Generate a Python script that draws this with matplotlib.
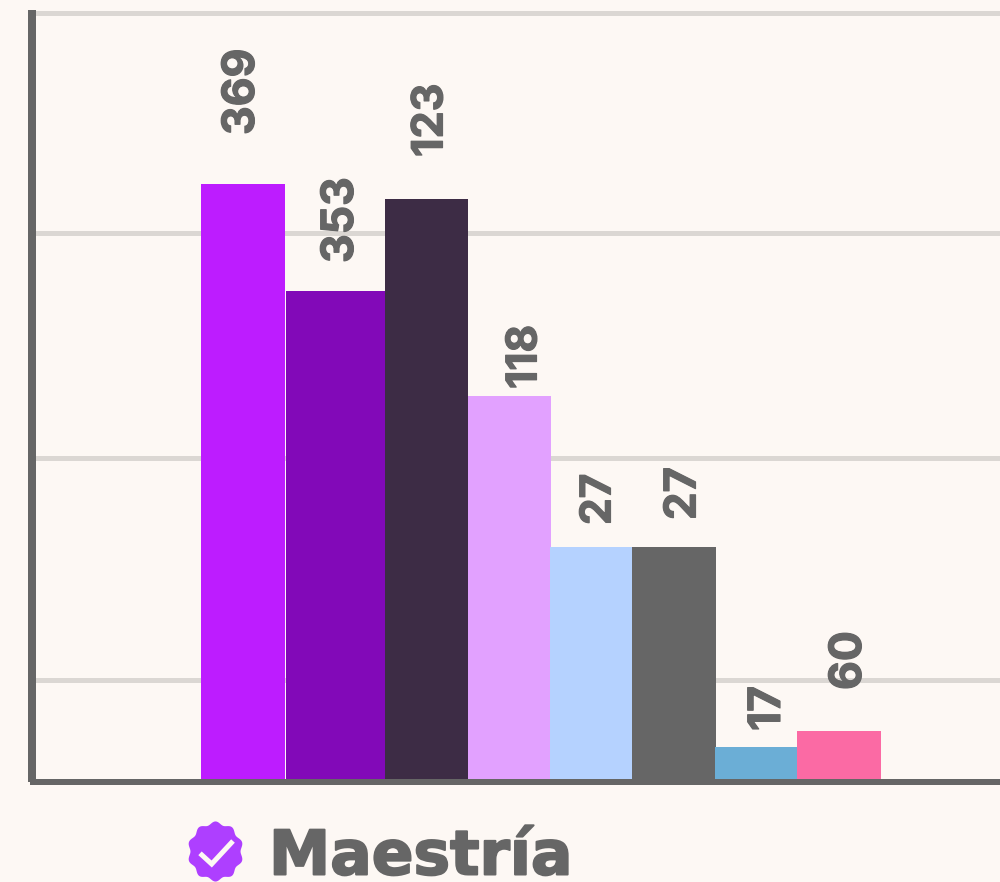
import numpy as np
import matplotlib
matplotlib.use("Agg")
import matplotlib.pyplot as plt
import matplotlib.patheffects as pe
from matplotlib.patches import Polygon

# labels printed on the bars do not follow bar heights in the source, so both are kept
labels = ["369", "353", "123", "118", "27", "27", "17", "60"]
heights = [598, 491, 583, 386, 235, 235, 35, 51]
grid_levels = [102.5, 324.5, 549, 769.5]
title = "Maestría"

colors = ["#BD1CFF", "#8209B8", "#3D2C45", "#E2A1FF", "#B5D2FF", "#666666", "#6BAED6", "#FB6AA4"]
lefts = [201, 286, 385, 468, 550, 632, 715, 797]
rights = [285, 385, 468, 551, 632, 716, 798, 881]
# label centre x, label bottom gap over the bar, font size
label_x = [242, 341, 431, 525, 599, 684, 768, 849]
label_gap = [49, 28, 42, 7, 22, 27, 16, 41]
label_size = [32, 32, 31, 30.5, 30.5, 31.5, 32, 32]

bg = "#FDF8F4"
gray = "#666666"
px = 72 / 100

plt.rcParams["font.family"] = ["Inter", "Roboto", "DejaVu Sans"]

fig = plt.figure(figsize=(10, 8.82), dpi=100, facecolor=bg)
ax = fig.add_axes([32 / 1000, (882 - 782) / 882, 968 / 1000, 772 / 882], facecolor=bg)
ax.set_xlim(32, 1000)
ax.set_ylim(0, 772)

ax.set_yticks(grid_levels)
ax.set_xticks([])
ax.tick_params(length=0, labelleft=False)
ax.grid(axis="y", color="#DBD7D3", lw=5 * px, clip_on=False)
ax.set_axisbelow(True)

widths = [r - l for l, r in zip(lefts, rights)]
ax.bar(lefts, heights, width=widths, align="edge", color=colors, linewidth=0, zorder=2)

for i in range(len(labels)):
    ax.annotate(labels[i], xy=(label_x[i], heights[i]), xytext=(0, label_gap[i] * px),
                textcoords="offset points", rotation=90, ha="center", va="bottom",
                fontsize=label_size[i], fontweight="bold", color=gray, zorder=3,
                path_effects=[pe.withStroke(linewidth=1.2 * px, foreground=gray)])

for s in ["top", "right"]:
    ax.spines[s].set_visible(False)
for s in ["left", "bottom"]:
    ax.spines[s].set_linewidth(8 * px if s == "left" else 6 * px)
    ax.spines[s].set_color(gray)
    ax.spines[s].set_capstyle("butt")
    ax.spines[s].set_zorder(4)
ax.spines["bottom"].set_bounds(30, 1000)

# overlay in pixel coords for the title badge
ov = fig.add_axes([0, 0, 1, 1], facecolor="none")
ov.set_xlim(0, 1000)
ov.set_ylim(882, 0)
ov.axis("off")
t = np.linspace(0, 2 * np.pi, 240, endpoint=False)
wave = 1 + 0.055 * np.cos(10 * t)
ov.add_patch(Polygon(np.c_[215.5 + 26.5 * wave * np.sin(t), 851.5 + 28.5 * wave * np.cos(t)], closed=True,
                     facecolor="#AE3FFF", edgecolor="none"))
ov.plot([200, 211.7, 233], [853.3, 864, 841], color=bg, lw=5 * px, solid_capstyle="butt",
        solid_joinstyle="miter")
ov.text(269, 874.5, title, fontsize=44.3, fontweight="bold", color=gray, ha="left", va="baseline",
        family="DejaVu Sans", path_effects=[pe.withStroke(linewidth=2 * px, foreground=gray)])

fig.savefig("out.png", dpi=100, facecolor=bg)
